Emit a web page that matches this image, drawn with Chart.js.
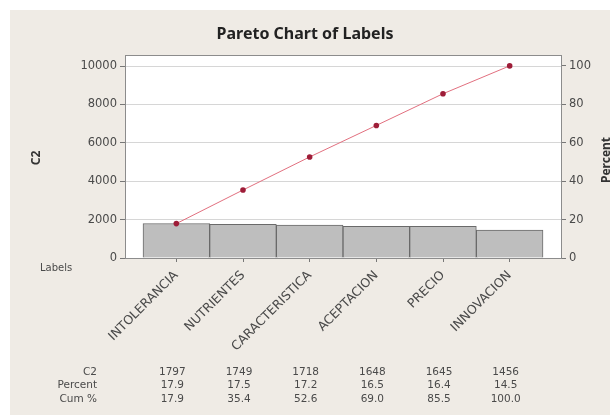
<!DOCTYPE html>
<html>
<head>
<meta charset="utf-8">
<script src="https://cdn.jsdelivr.net/npm/chart.js@4.4.1/dist/chart.umd.min.js"></script>
<style>
    body { margin: 0; background: #ffffff; }
    #wrap { width: 610px; height: 417px; position: relative; }
</style>
</head>
<body>
<div id="wrap"><canvas id="paretoChart"></canvas></div>
<script>
// Pareto data
const labels = ['INTOLERANCIA', 'NUTRIENTES', 'CARACTERISTICA', 'ACEPTACION', 'PRECIO', 'INNOVACION'];
const counts = [1797, 1749, 1718, 1648, 1645, 1456];
const percents = ['17.9', '17.5', '17.2', '16.5', '16.4', '14.5'];
const cumPercents = [17.9, 35.4, 52.6, 69.0, 85.5, 100.0];
const leftTicks = [0, 2000, 4000, 6000, 8000, 10000];
const rightTicks = [0, 20, 40, 60, 80, 100];

const font = "'DejaVu Sans', sans-serif";
const titleFont = "'Noto Sans', sans-serif";

// background, plot box, axis titles and the stats table under the chart
const paretoDecor = {
    id: 'paretoDecor',
    beforeDraw(chart) {
        const { ctx, chartArea: a } = chart;
        ctx.save();
        ctx.fillStyle = '#ffffff';
        ctx.fillRect(0, 0, chart.width, chart.height);
        ctx.fillStyle = '#efebe5';
        ctx.fillRect(10, 10, chart.width - 10, chart.height - 12);
        ctx.fillStyle = '#ffffff';
        ctx.fillRect(a.left, a.top, a.right - a.left, a.bottom - a.top);
        ctx.restore();
    },
    afterDraw(chart) {
        const { ctx, chartArea: a } = chart;
        const x = chart.scales.x;
        ctx.save();
        ctx.strokeStyle = '#8c8c8c';
        ctx.lineWidth = 1;
        ctx.strokeRect(a.left + 0.5, a.top + 0.5, a.right - a.left, a.bottom - a.top);

        ctx.fillStyle = '#333';
        ctx.font = 'bold 12px ' + titleFont;
        ctx.textAlign = 'center';
        ctx.textBaseline = 'middle';
        // left title
        ctx.save();
        ctx.translate(37, 158);
        ctx.rotate(-Math.PI / 2);
        ctx.fillText('C2', 0, 0);
        ctx.restore();
        // right title
        ctx.save();
        ctx.translate(607, 160);
        ctx.rotate(-Math.PI / 2);
        ctx.fillText('Percent', 0, 0);
        ctx.restore();

        ctx.font = '10px ' + font;
        ctx.fillStyle = '#4a4a4a';
        ctx.textAlign = 'left';
        ctx.fillText('Labels', 40, 268);

        ctx.font = '10.5px ' + font;
        const rows = [
            ['C2', counts.map(String)],
            ['Percent', percents],
            ['Cum %', cumPercents.map(v => v.toFixed(1))]
        ];
        rows.forEach((row, r) => {
            const y = 372 + r * 13.5;
            ctx.textAlign = 'right';
            ctx.fillText(row[0], 97, y);
            ctx.textAlign = 'center';
            row[1].forEach((val, i) => {
                ctx.fillText(val, x.getPixelForValue(i) - 4, y);
            });
        });
        ctx.restore();
    }
};

const total = counts.reduce((s, v) => s + v, 0);
const leftMax = 10580;
const rightMax = leftMax / total * 100;

new Chart(document.getElementById('paretoChart'), {
    data: {
        datasets: [{
            type: 'line',
            data: cumPercents.map((v, i) => ({ x: i, y: v })),
            yAxisID: 'y1',
            borderColor: '#e2707f',
            borderWidth: 1,
            pointRadius: 2.8,
            pointBorderWidth: 0,
            pointBackgroundColor: '#9e1d38',
            order: 0
        }, {
            type: 'bar',
            data: counts.map((v, i) => ({ x: i, y: v })),
            yAxisID: 'y',
            backgroundColor: '#bebebe',
            borderColor: '#6a6a6a',
            borderWidth: 1,
            barPercentage: 1,
            categoryPercentage: 1,
            order: 1
        }]
    },
    options: {
        responsive: true,
        maintainAspectRatio: false,
        animation: false,
        layout: { padding: 0 },
        plugins: {
            legend: { display: false },
            tooltip: { enabled: false },
            title: {
                display: true,
                text: 'Pareto Chart of Labels',
                color: '#222',
                font: { family: titleFont, size: 16, weight: 'bold' },
                padding: { top: 24.4, bottom: 11.4 }
            }
        },
        scales: {
            x: {
                type: 'linear',
                offset: false,
                min: -0.77,
                max: 5.77,
                afterBuildTicks: (scale) => {
                    scale.ticks = labels.map((_, i) => ({ value: i }));
                },
                afterFit: (scale) => { scale.height = 159; },
                grid: { drawOnChartArea: false, offset: false, tickLength: 4, tickColor: '#777' },
                border: { display: false },
                ticks: {
                    minRotation: 45,
                    maxRotation: 45,
                    padding: 6,
                    color: '#4a4a4a',
                    font: { family: font, size: 12.5 },
                    callback: (v) => labels[v]
                }
            },
            y: {
                position: 'left',
                min: 0,
                max: leftMax,
                afterBuildTicks: (scale) => {
                    scale.ticks = leftTicks.map(v => ({ value: v }));
                },
                afterFit: (scale) => { scale.width = 125; },
                grid: { color: '#d6d6d6', tickLength: 5, tickColor: '#777' },
                border: { display: false },
                ticks: {
                    padding: 3,
                    color: '#4a4a4a',
                    font: { family: font, size: 11.5 },
                    callback: (v) => String(v)
                }
            },
            y1: {
                position: 'right',
                min: 0,
                max: rightMax,
                afterBuildTicks: (scale) => {
                    scale.ticks = rightTicks.map(v => ({ value: v }));
                },
                afterFit: (scale) => { scale.width = 49; },
                grid: { drawOnChartArea: false, tickLength: 5, tickColor: '#777' },
                border: { display: false },
                ticks: {
                    padding: 3,
                    color: '#4a4a4a',
                    font: { family: font, size: 11.5 },
                    callback: (v) => String(v)
                }
            }
        }
    },
    plugins: [paretoDecor]
});
</script>
</body>
</html>
